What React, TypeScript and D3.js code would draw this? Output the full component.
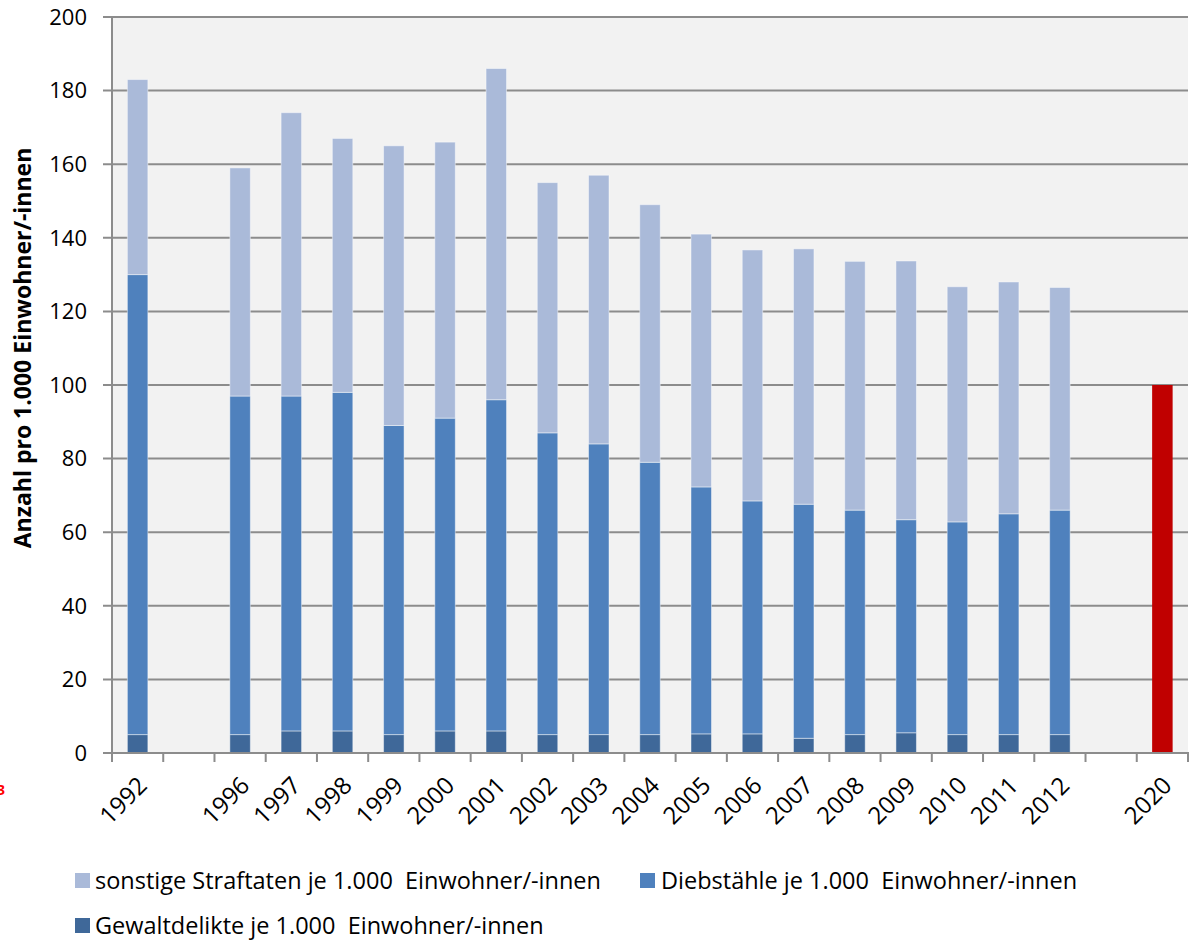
import React from "react";
import * as d3 from "d3";

const years: (string | null)[] = ["1992", null, "1996", "1997", "1998", "1999", "2000", "2001", "2002", "2003", "2004", "2005", "2006", "2007", "2008", "2009", "2010", "2011", "2012", null, "2020"];
const gewalt: (number | null)[] = [5, null, 5, 6, 6, 5, 6, 6, 5, 5, 5, 5.2, 5.2, 4, 5, 5.5, 5, 5, 5, null, null];
const diebstahl: (number | null)[] = [125, null, 92, 91, 92, 84, 85, 90, 82, 79, 74, 67.1, 63.3, 63.6, 61, 57.9, 57.8, 60, 61, null, null];
const sonstige: (number | null)[] = [53, null, 62, 77, 69, 76, 75, 90, 68, 73, 70, 68.7, 68.2, 69.4, 67.6, 70.3, 63.9, 63, 60.5, null, null];
const zielwert: (number | null)[] = [null, null, null, null, null, null, null, null, null, null, null, null, null, null, null, null, null, null, null, null, 100];
const yTicks = [0, 20, 40, 60, 80, 100, 120, 140, 160, 180, 200];
const legendLabels = [
  "sonstige Straftaten je 1.000  Einwohner/-innen",
  "Diebstähle je 1.000  Einwohner/-innen",
  "Gewaltdelikte je 1.000  Einwohner/-innen",
];
const yTitle = "Anzahl pro 1.000 Einwohner/-innen";

const C_SONST = "#aabad9";
const C_DIEB = "#4f81bd";
const C_GEW = "#3f6899";
const C_RED = "#c00000";
const FONT = "'Open Sans', 'Liberation Sans', sans-serif";

export default function App() {
  const W = 1192, H = 943;
  const left = 112, right = 1188, top = 17, bottom = 753;
  const keys = years.map((_, i) => String(i));
  const x = d3.scaleBand<string>().domain(keys).range([left, right]).paddingInner(0.6).paddingOuter(0.3);
  const y = d3.scaleLinear().domain([0, 200]).range([bottom, top]);
  const step = x.step();

  const bars: React.ReactNode[] = [];
  keys.forEach((k, i) => {
    const x0 = x(k)!;
    const bw = x.bandwidth();
    const g = gewalt[i], d = diebstahl[i], s = sonstige[i], z = zielwert[i];
    if (g != null && d != null && s != null) {
      const segs = [
        { v0: 0, v1: g, c: C_GEW },
        { v0: g, v1: g + d, c: C_DIEB },
        { v0: g + d, v1: g + d + s, c: C_SONST },
      ];
      segs.forEach((sg, j) => {
        bars.push(
          <rect key={`b${i}-${j}`} x={x0} y={y(sg.v1)} width={bw} height={y(sg.v0) - y(sg.v1)} fill={sg.c} stroke="rgba(255,255,255,0.45)" strokeWidth={1} />
        );
      });
    }
    if (z != null) {
      bars.push(<rect key={`z${i}`} x={x0} y={y(z)} width={bw} height={y(0) - y(z)} fill={C_RED} />);
    }
  });

  const legendStyle: React.CSSProperties = { whiteSpace: "pre" };

  return (
    <svg width={W} height={H} style={{ position: "absolute", left: 0, top: 0, background: "#ffffff" }} fontFamily={FONT}>
      <rect x={left} y={top} width={right - left} height={bottom - top} fill="#f2f2f2" />
      {yTicks.map((t) => (
        <g key={`gy${t}`}>
          <line x1={left - 9} x2={right} y1={y(t)} y2={y(t)} stroke="#8c8c8c" strokeWidth={2} />
          <text x={87} y={y(t)} dy="0.35em" textAnchor="end" fontSize={22} fill="#000">{t}</text>
        </g>
      ))}
      {bars}
      <line x1={left} x2={left} y1={top} y2={bottom + 1} stroke="#8c8c8c" strokeWidth={2} />
      <line x1={left - 9} x2={right + 1} y1={bottom} y2={bottom} stroke="#8c8c8c" strokeWidth={2} />
      {d3.range(years.length + 1).map((i) => (
        <line key={`tx${i}`} x1={left + i * step} x2={left + i * step} y1={bottom} y2={bottom + 9} stroke="#8c8c8c" strokeWidth={2} />
      ))}
      {years.map((yr, i) =>
        yr ? (
          <text key={`xl${i}`} transform={`translate(${x(String(i))! + x.bandwidth() / 2 + 5},${bottom + 28}) rotate(-45)`} textAnchor="end" dy="0.35em" fontSize={24} fill="#000">{yr}</text>
        ) : null
      )}
      <text transform={`translate(31,348) rotate(-90)`} textAnchor="middle" fontSize={23} fontWeight="bold" fill="#000">{yTitle}</text>
      <text x={-3} y={795} fontSize={14} fontWeight="bold" fill="#ff0000">3</text>
      <rect x={75} y={873} width={15} height={15} fill={C_SONST} />
      <text x={95} y={881} dy="0.35em" fontSize={23.5} fill="#000" style={legendStyle}>{legendLabels[0]}</text>
      <rect x={640} y={873} width={15} height={15} fill={C_DIEB} />
      <text x={661} y={881} dy="0.35em" fontSize={23.5} fill="#000" style={legendStyle}>{legendLabels[1]}</text>
      <rect x={75} y={918} width={15} height={15} fill={C_GEW} />
      <text x={95} y={926} dy="0.35em" fontSize={23.5} fill="#000" style={legendStyle}>{legendLabels[2]}</text>
    </svg>
  );
}
